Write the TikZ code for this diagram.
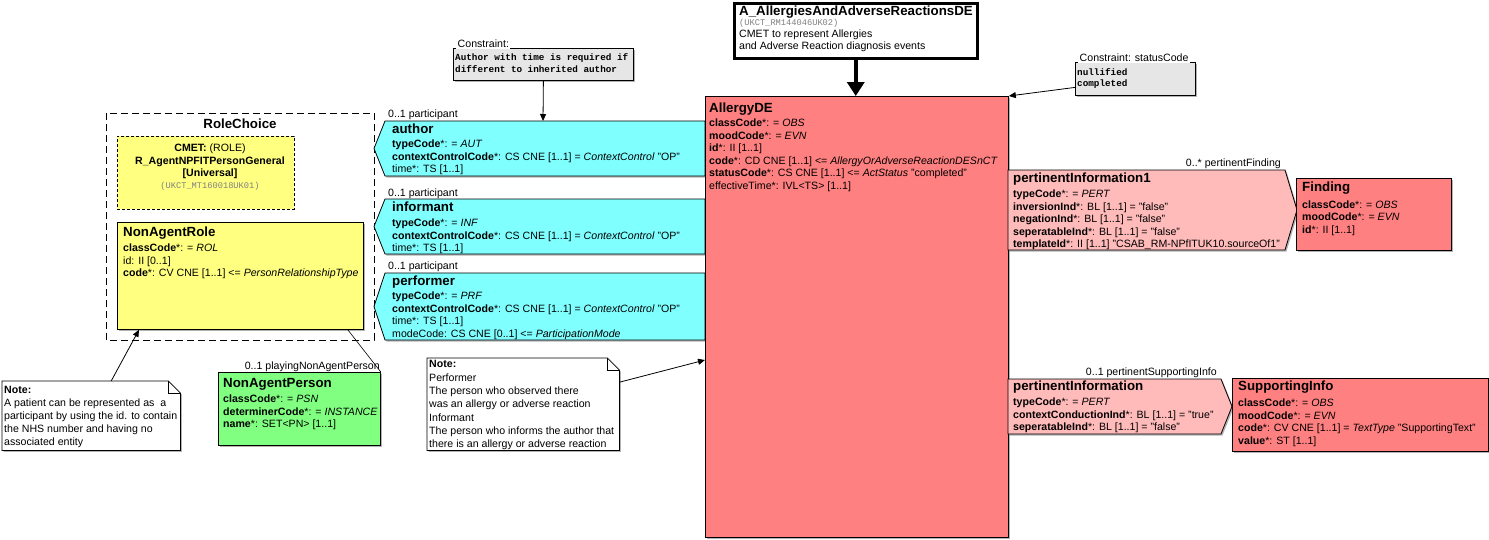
\documentclass[tikz,border=0pt]{standalone}
\usepackage{fontspec}
\setmainfont{Liberation Sans}
\setmonofont{Liberation Mono}
\usepackage{tikz}
\usetikzlibrary{arrows.meta,shadows}

\definecolor{actred}{HTML}{FF8080}
\definecolor{actpink}{HTML}{FFBABA}
\definecolor{partcyan}{HTML}{80FFFF}
\definecolor{roleyellow}{HTML}{FFFF80}
\definecolor{entgreen}{HTML}{80FF80}
\definecolor{consgray}{HTML}{E6E6E6}

\newcommand{\attrsize}{\fontsize{10.6}{12.5}\selectfont}
\newcommand{\clssize}{\fontsize{13.3}{15}\selectfont\bfseries}
\newcommand{\constsize}{\fontsize{9.3}{11.6}\selectfont\ttfamily\bfseries}
\newcommand{\codesize}{\fontsize{8.7}{10}\selectfont\ttfamily\color{gray}}

% attribute lists hang from a point 10pt above their first baseline
\tikzset{
	box/.style={draw, line width=0.8pt, anchor=north west, inner sep=0,
		drop shadow={shadow xshift=1.5pt, shadow yshift=-1.5pt, fill=black!50, opacity=0.6}},
	partshape/.style={draw, line width=0.8pt,
		drop shadow={shadow xshift=1.5pt, shadow yshift=-1.5pt, fill=black!50, opacity=0.6}},
	clsname/.style={anchor=base west, inner sep=0, font=\clssize},
	attrlist/.style={anchor=north west, inner sep=0, align=left, font=\attrsize, yshift=-3pt,
		execute at begin node=\rule{0pt}{10pt}},
	rolename/.style={anchor=base west, inner sep=0, font=\attrsize},
	notebox/.style={anchor=north west, inner sep=0},
	arr/.style={line width=0.8pt, -{Triangle[length=7pt,width=6pt]}},
}

\begin{document}
\begin{tikzpicture}[x=1pt,y=-1pt]
\useasboundingbox (0,0) rectangle (1489,539);

% choice of roles
\draw[line width=0.8pt, dash pattern=on 7pt off 4pt] (106,113) rectangle (374,340);
\node[clsname, anchor=base] (choice) at (240,128) {RoleChoice};
\node[draw, fill=roleyellow, line width=0.8pt, dash pattern=on 3pt off 2pt, anchor=north west,
	inner sep=0, minimum width=177, minimum height=73] (cmet) at (117,136) {};
\node[attrlist, anchor=north, align=center] (cmettext) at (210,140.7)
	{\textbf{CMET:} (ROLE)\\ \textbf{R\_AgentNPFITPersonGeneral}\\ \textbf{[Universal]}};
\node[anchor=base, inner sep=0, font=\codesize] (cmetcode) at (210,188) {(UKCT\_MT160018UK01)};

\node[box, fill=roleyellow, minimum width=246, minimum height=107] (role) at (117,222) {};
\node[clsname] (rolename) at (123,236) {NonAgentRole};
\node[attrlist] (roleattr) at (123,240.7) {\textbf{classCode}*: = \textit{ROL}\\ id: II [0..1]\\
	\textbf{code}*: CV CNE [1..1] <= \textit{PersonRelationshipType}};

\node[box, fill=entgreen, minimum width=162, minimum height=73] (person) at (218,372) {};
\node[rolename, anchor=base east] (personrole) at (380,369.5) {0..1 playingNonAgentPerson};
\node[clsname] (personname) at (223,387.3) {NonAgentPerson};
\node[attrlist] (personattr) at (223,391.7) {\textbf{classCode}*: = \textit{PSN}\\
	\textbf{determinerCode}*: = \textit{INSTANCE}\\ \textbf{name}*: SET<PN> [1..1]};
\draw[line width=0.6pt] ([xshift=-16pt]role.south east) -- (person.north east);

% participations
\draw[partshape, fill=partcyan] (705,121) -- (385,121) -- (374,148.5) -- (385,176) -- (705,176) -- cycle;
\draw[partshape, fill=partcyan] (705,199) -- (385,199) -- (374,226.5) -- (385,254) -- (705,254) -- cycle;
\draw[partshape, fill=partcyan] (705,273) -- (385,273) -- (374,306.5) -- (385,340) -- (705,340) -- cycle;
\coordinate (authortop) at (543,121);

\node[rolename] (authorrole) at (388,117) {0..1 participant};
\node[clsname] (author) at (392,133) {author};
\node[attrlist] (authorattr) at (392,137) {\textbf{typeCode}*: = \textit{AUT}\\
	\textbf{contextControlCode}*: CS CNE [1..1] = \textit{ContextControl} "OP"\\ time*: TS [1..1]};

\node[rolename] (informantrole) at (388,196) {0..1 participant};
\node[clsname] (informant) at (392,211.5) {informant};
\node[attrlist] (informantattr) at (392,216) {\textbf{typeCode}*: = \textit{INF}\\
	\textbf{contextControlCode}*: CS CNE [1..1] = \textit{ContextControl} "OP"\\ time*: TS [1..1]};

\node[rolename] (performerrole) at (388,269) {0..1 participant};
\node[clsname] (performer) at (392,285) {performer};
\node[attrlist] (performerattr) at (392,289) {\textbf{typeCode}*: = \textit{PRF}\\
	\textbf{contextControlCode}*: CS CNE [1..1] = \textit{ContextControl} "OP"\\ time*: TS [1..1]\\
	modeCode: CS CNE [0..1] <= \textit{ParticipationMode}};

% the act
\node[box, fill=actred, minimum width=303, minimum height=441] (allergy) at (705,96) {};
\node[clsname] (allergyname) at (709,112) {AllergyDE};
\node[attrlist] (allergyattr) at (709,116) {\textbf{classCode}*: = \textit{OBS}\\
	\textbf{moodCode}*: = \textit{EVN}\\ \textbf{id}*: II [1..1]\\
	\textbf{code}*: CD CNE [1..1] <= \textit{AllergyOrAdverseReactionDESnCT}\\
	\textbf{statusCode}*: CS CNE [1..1] <= \textit{ActStatus} "completed"\\
	effectiveTime*: IVL<TS> [1..1]};

% entry point
\node[draw, line width=2.5pt, anchor=north west, inner sep=0, fill=white,
	minimum width=243, minimum height=55] (title) at (733,2) {};
\node[clsname] (titlename) at (739,15) {A\_AllergiesAndAdverseReactionsDE};
\node[anchor=base west, inner sep=0, font=\codesize] (titlecode) at (739,25) {(UKCT\_RM144046UK02)};
\node[attrlist, font=\fontsize{10.6}{11.3}\selectfont] (titletext) at (739,27)
	{CMET to represent Allergies\\ and Adverse Reaction diagnosis events};
\draw[line width=4pt, -{Triangle[length=14pt,width=17pt]}] (title.south) -- (title.south |- allergy.north);

% constraints
\node[box, fill=consgray, minimum width=180, minimum height=32] (con1) at (453,48) {};
\node[rolename, fill=white, inner sep=1.5pt] (con1label) at (456,47) {Constraint:};
\node[attrlist, font=\constsize] (con1text) at (455,50.7)
	{Author with time is required if\\ different to inherited author};
\draw[arr] (con1.south) -- (authortop);

\node[box, fill=consgray, minimum width=120, minimum height=33] (con2) at (1075,62) {};
\node[rolename, fill=white, inner sep=1.5pt] (con2label) at (1078,61.5) {Constraint: statusCode};
\node[attrlist, font=\constsize] (con2text) at (1077,65) {nullified\\ completed};
\draw[arr] ([yshift=-8.5pt]con2.west) -- (allergy.north east);

% pertinent information
\draw[partshape, fill=actpink] (1008,170) -- (1285,170) -- (1297,210) -- (1285,250) -- (1008,250) -- cycle;
\node[rolename, anchor=base east] (findingrole) at (1281,166.5) {0..* pertinentFinding};
\node[clsname] (pert1) at (1013,182.7) {pertinentInformation1};
\node[attrlist] (pert1attr) at (1013,186.7) {\textbf{typeCode}*: = \textit{PERT}\\
	\textbf{inversionInd}*: BL [1..1] = "false"\\ \textbf{negationInd}*: BL [1..1] = "false"\\
	\textbf{seperatableInd}*: BL [1..1] = "false"\\
	\textbf{templateId}*: II [1..1] "CSAB\_RM-NPfITUK10.sourceOf1"};

\node[box, fill=actred, minimum width=155, minimum height=72] (finding) at (1296,178) {};
\node[clsname] (findingname) at (1302,191.7) {Finding};
\node[attrlist] (findingattr) at (1302,197.3) {\textbf{classCode}*: = \textit{OBS}\\
	\textbf{moodCode}*: = \textit{EVN}\\ \textbf{id}*: II [1..1]};

\draw[partshape, fill=actpink] (1008,379) -- (1221,379) -- (1232,406.5) -- (1221,434) -- (1008,434) -- cycle;
\node[rolename, anchor=base east] (suppinforole) at (1217,375) {0..1 pertinentSupportingInfo};
\node[clsname] (pert2) at (1013,390.7) {pertinentInformation};
\node[attrlist] (pert2attr) at (1013,395) {\textbf{typeCode}*: = \textit{PERT}\\
	\textbf{contextConductionInd}*: BL [1..1] = "true"\\ \textbf{seperatableInd}*: BL [1..1] = "false"};

\node[box, fill=actred, minimum width=256, minimum height=73] (suppinfo) at (1232,378) {};
\node[clsname] (suppinfoname) at (1238,390.7) {SupportingInfo};
\node[attrlist] (suppinfoattr) at (1238,396) {\textbf{classCode}*: = \textit{OBS}\\
	\textbf{moodCode}*: = \textit{EVN}\\
	\textbf{code}*: CV CNE [1..1] = \textit{TextType} "SupportingText"\\ \textbf{value}*: ST [1..1]};

% notes
\node[notebox, minimum width=178, minimum height=69] (note1) at (2,381) {};
\draw[partshape, fill=white] (note1.north west) -- ([xshift=-12pt]note1.north east)
	-- ([yshift=-12pt]note1.north east) -- (note1.south east) -- (note1.south west) -- cycle;
\draw[line width=0.6pt] ([xshift=-12pt]note1.north east) -- ([xshift=-12pt,yshift=-12pt]note1.north east)
	-- ([yshift=-12pt]note1.north east);
\node[attrlist, font=\fontsize{10.6}{12.8}\selectfont] (note1text) at (4,383.3) {\textbf{Note:}\\
	A patient can be represented as \ a\\ participant by using the id. to contain\\
	the NHS number and having no\\ associated entity};
\draw[arr] ([xshift=20pt]note1.north) -- ([xshift=22pt]role.south west);

\node[notebox, minimum width=192, minimum height=92] (note2) at (427,358) {};
\draw[partshape, fill=white] (note2.north west) -- ([xshift=-12pt]note2.north east)
	-- ([yshift=-12pt]note2.north east) -- (note2.south east) -- (note2.south west) -- cycle;
\draw[line width=0.6pt] ([xshift=-12pt]note2.north east) -- ([xshift=-12pt,yshift=-12pt]note2.north east)
	-- ([yshift=-12pt]note2.north east);
\node[attrlist, font=\fontsize{10.6}{13.3}\selectfont] (note2text) at (429,357.3) {\textbf{Note:}\\
	Performer\\ The person who observed there\\ was an allergy or adverse reaction\\ Informant\\
	The person who informs the author that\\ there is an allergy or adverse reaction};
\draw[arr] ([yshift=22pt]note2.east) -- ([yshift=-264pt]allergy.north west);
\end{tikzpicture}
\end{document}
